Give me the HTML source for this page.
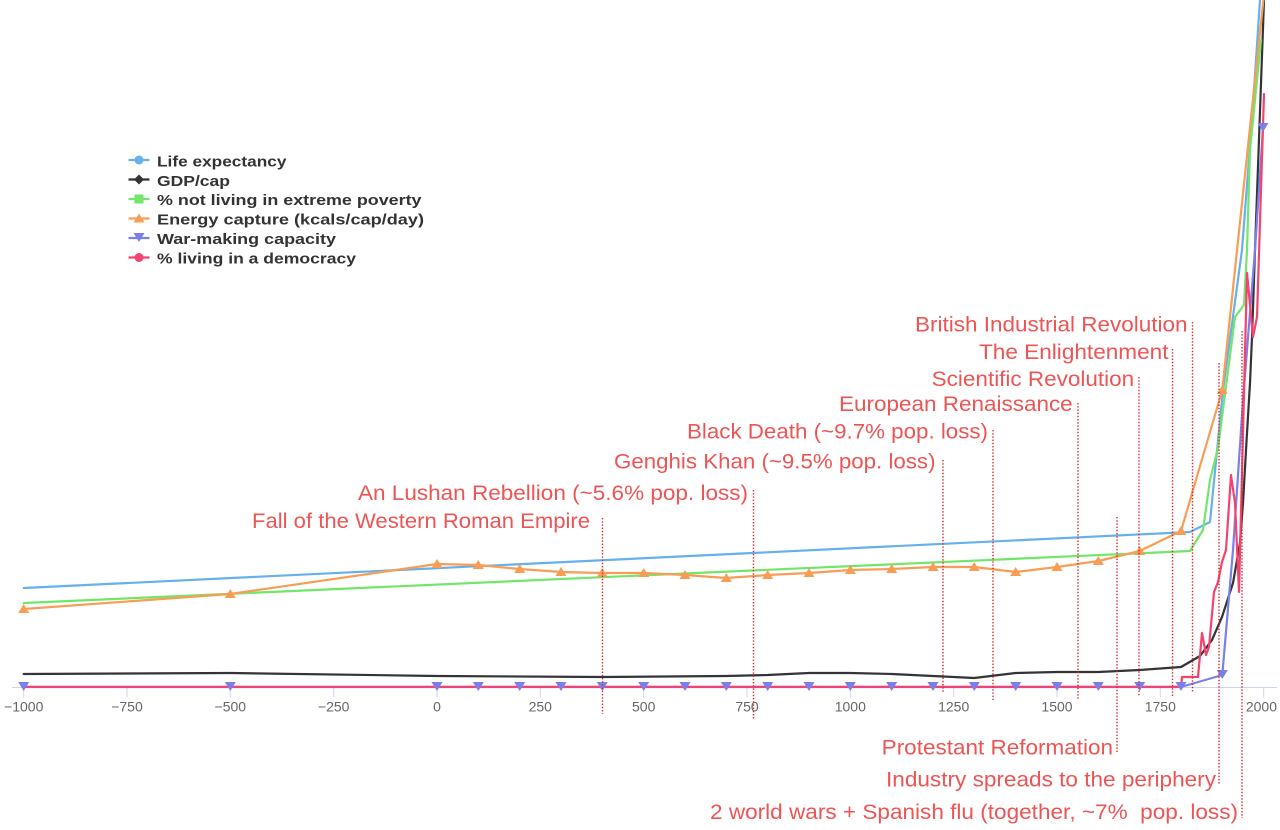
<!DOCTYPE html>
<html>
<head>
<meta charset="utf-8">
<style>
html,body{margin:0;padding:0;background:#fff;}
svg{display:block;}
.ann{font-family:"Liberation Sans",Arial,sans-serif;font-size:21px;fill:#ef5454;white-space:pre;}
.leg{font-family:"Liberation Sans",Arial,sans-serif;font-size:15px;font-weight:bold;fill:#333;}
.tick{font-family:"Liberation Sans",Arial,sans-serif;font-size:14px;fill:#666;}
</style>
</head>
<body>
<svg width="1280" height="830" viewBox="0 0 1280 830" xmlns="http://www.w3.org/2000/svg">
<defs>
<clipPath id="plot"><rect x="0" y="0" width="1280" height="700"/></clipPath>
</defs>

<!-- x axis -->
<line x1="12" y1="687.5" x2="1277" y2="687.5" stroke="#ccd6eb" stroke-width="1"/>
<g stroke="#ccd6eb" stroke-width="1">
<line x1="23.7" y1="687.5" x2="23.7" y2="697.5"/>
<line x1="127" y1="687.5" x2="127" y2="697.5"/>
<line x1="230.3" y1="687.5" x2="230.3" y2="697.5"/>
<line x1="333.7" y1="687.5" x2="333.7" y2="697.5"/>
<line x1="437" y1="687.5" x2="437" y2="697.5"/>
<line x1="540.3" y1="687.5" x2="540.3" y2="697.5"/>
<line x1="643.7" y1="687.5" x2="643.7" y2="697.5"/>
<line x1="747" y1="687.5" x2="747" y2="697.5"/>
<line x1="850.3" y1="687.5" x2="850.3" y2="697.5"/>
<line x1="953.7" y1="687.5" x2="953.7" y2="697.5"/>
<line x1="1057" y1="687.5" x2="1057" y2="697.5"/>
<line x1="1160.3" y1="687.5" x2="1160.3" y2="697.5"/>
<line x1="1263.7" y1="687.5" x2="1263.7" y2="697.5"/>
</g>
<g class="tick" text-anchor="middle">
<text x="23.7" y="711.5">−1000</text>
<text x="127" y="711.5">−750</text>
<text x="230.3" y="711.5">−500</text>
<text x="333.7" y="711.5">−250</text>
<text x="437" y="711.5">0</text>
<text x="540.3" y="711.5">250</text>
<text x="643.7" y="711.5">500</text>
<text x="747" y="711.5">750</text>
<text x="850.3" y="711.5">1000</text>
<text x="953.7" y="711.5">1250</text>
<text x="1057" y="711.5">1500</text>
<text x="1160.3" y="711.5">1750</text>
<text x="1277" y="711.5" text-anchor="end">2000</text>
</g>

<g clip-path="url(#plot)" fill="none" stroke-width="2.2" stroke-linejoin="round" stroke-linecap="round">
<polyline stroke="#66b0ec" points="23.7,588 1190,532 1210,522 1223,390 1242,250 1252,120 1260,0"/>
<polyline stroke="#333338" points="23.7,674 230.3,673 437,676 602,677 726,676 767.7,675 809,673 850.3,673 891.7,674 933,676 974.3,678 1015.7,673 1057,672 1098.3,672 1139.7,670 1181,667 1200,656 1212,640 1222,617 1233,583 1240,543 1243,503 1247,433 1250,383 1252,337 1255,250 1264,0"/>
<polyline stroke="#72e66a" points="23.7,603 1190,551 1203,530 1210,480 1218,448 1235,317 1244,305 1247,250 1250,150 1261,40"/>
<polyline stroke="#f89d55" points="23.7,609 230.3,594 437,564 478.3,565 519.7,569 561,572 602.3,573 643.7,573 685,575 726.3,578 767.7,575 809,573 850.3,570 891.7,569 933,567 974.3,567 1015.7,572 1057,567 1098.3,561 1139.7,551 1181,531 1222.3,390 1265,-15"/>
<polyline stroke="#7b7fe9" points="23.7,687 1181,687 1222.3,675 1233,550 1243,400 1255,250 1263,128"/>
<polyline stroke="#f5426f" points="23.7,686.8 1181,686.8 1182,677 1198,677 1202,633 1206,655 1209,647 1214,592 1218,582 1222,562 1226,550 1231,475 1235,503 1239,592 1247,273 1253,337 1257,317 1264,94"/>
</g>

<g fill="#f89d55" clip-path="url(#plot)">
<path d="M23.7,604 l5.5,9 h-11z"/>
<path d="M230.3,589 l5.5,9 h-11z"/>
<path d="M437,559 l5.5,9 h-11z"/>
<path d="M478.3,560 l5.5,9 h-11z"/>
<path d="M519.7,564 l5.5,9 h-11z"/>
<path d="M561,567 l5.5,9 h-11z"/>
<path d="M602.3,568 l5.5,9 h-11z"/>
<path d="M643.7,568 l5.5,9 h-11z"/>
<path d="M685,570 l5.5,9 h-11z"/>
<path d="M726.3,573 l5.5,9 h-11z"/>
<path d="M767.7,570 l5.5,9 h-11z"/>
<path d="M809,568 l5.5,9 h-11z"/>
<path d="M850.3,565 l5.5,9 h-11z"/>
<path d="M891.7,564 l5.5,9 h-11z"/>
<path d="M933,562 l5.5,9 h-11z"/>
<path d="M974.3,562 l5.5,9 h-11z"/>
<path d="M1015.7,567 l5.5,9 h-11z"/>
<path d="M1057,562 l5.5,9 h-11z"/>
<path d="M1098.3,556 l5.5,9 h-11z"/>
<path d="M1139.7,546 l5.5,9 h-11z"/>
<path d="M1181,526 l5.5,9 h-11z"/>
<path d="M1222.3,385 l5.5,9 h-11z"/>
</g>

<g fill="#7b7fe9">
<path d="M18.2,682 h11 l-5.5,9z"/>
<path d="M224.8,682 h11 l-5.5,9z"/>
<path d="M431.5,682 h11 l-5.5,9z"/>
<path d="M472.8,682 h11 l-5.5,9z"/>
<path d="M514.2,682 h11 l-5.5,9z"/>
<path d="M555.5,682 h11 l-5.5,9z"/>
<path d="M596.8,682 h11 l-5.5,9z"/>
<path d="M638.2,682 h11 l-5.5,9z"/>
<path d="M679.5,682 h11 l-5.5,9z"/>
<path d="M720.8,682 h11 l-5.5,9z"/>
<path d="M762.2,682 h11 l-5.5,9z"/>
<path d="M803.5,682 h11 l-5.5,9z"/>
<path d="M844.8,682 h11 l-5.5,9z"/>
<path d="M886.2,682 h11 l-5.5,9z"/>
<path d="M927.5,682 h11 l-5.5,9z"/>
<path d="M968.8,682 h11 l-5.5,9z"/>
<path d="M1010.2,682 h11 l-5.5,9z"/>
<path d="M1051.5,682 h11 l-5.5,9z"/>
<path d="M1092.8,682 h11 l-5.5,9z"/>
<path d="M1134.2,682 h11 l-5.5,9z"/>
<path d="M1175.5,682 h11 l-5.5,9z"/>
<path d="M1216.8,670 h11 l-5.5,9z"/>
<path d="M1257.5,123 h11 l-5.5,9z"/>
</g>

<g stroke="#dc2626" stroke-width="1.4" stroke-dasharray="1.4 1.8">
<line x1="602.5" y1="518" x2="602.5" y2="714"/>
<line x1="753.5" y1="490" x2="753.5" y2="719"/>
<line x1="943" y1="460" x2="943" y2="693"/>
<line x1="993" y1="430" x2="993" y2="700"/>
<line x1="1078" y1="403" x2="1078" y2="699"/>
<line x1="1117" y1="517" x2="1117" y2="753"/>
<line x1="1139" y1="377" x2="1139" y2="697"/>
<line x1="1172.5" y1="349" x2="1172.5" y2="697"/>
<line x1="1192.5" y1="322" x2="1192.5" y2="693"/>
<line x1="1219" y1="363" x2="1219" y2="784"/>
<line x1="1242" y1="331" x2="1242" y2="818"/>
</g>

<g class="ann">
<text x="915" y="331.5" textLength="272.5" lengthAdjust="spacingAndGlyphs">British Industrial Revolution</text>
<text x="979" y="359" textLength="189.5" lengthAdjust="spacingAndGlyphs">The Enlightenment</text>
<text x="931.7" y="386" textLength="202.5" lengthAdjust="spacingAndGlyphs">Scientific Revolution</text>
<text x="839" y="411" textLength="233.7" lengthAdjust="spacingAndGlyphs">European Renaissance</text>
<text x="687" y="438.3" textLength="301" lengthAdjust="spacingAndGlyphs">Black Death (~9.7% pop. loss)</text>
<text x="614" y="468.3" textLength="321.5" lengthAdjust="spacingAndGlyphs">Genghis Khan (~9.5% pop. loss)</text>
<text x="358" y="500" textLength="390" lengthAdjust="spacingAndGlyphs">An Lushan Rebellion (~5.6% pop. loss)</text>
<text x="252" y="528" textLength="338" lengthAdjust="spacingAndGlyphs">Fall of the Western Roman Empire</text>
<text x="881.7" y="754.3" textLength="231.3" lengthAdjust="spacingAndGlyphs">Protestant Reformation</text>
<text x="886" y="786.7" textLength="330" lengthAdjust="spacingAndGlyphs">Industry spreads to the periphery</text>
<text x="710" y="819" textLength="528" lengthAdjust="spacingAndGlyphs" xml:space="preserve">2 world wars + Spanish flu (together, ~7%  pop. loss)</text>
</g>

<g stroke-width="2.2">
<line x1="128.5" y1="160" x2="149.5" y2="160" stroke="#66b0ec"/>
<circle cx="139" cy="160" r="4.5" fill="#66b0ec" stroke="none"/>
<line x1="128.5" y1="179.5" x2="149.5" y2="179.5" stroke="#333338"/>
<path d="M139,174.5 l5,5 l-5,5 l-5,-5z" fill="#333338" stroke="none"/>
<line x1="128.5" y1="199" x2="149.5" y2="199" stroke="#72e66a"/>
<rect x="134.5" y="194.5" width="9" height="9" fill="#72e66a" stroke="none"/>
<line x1="128.5" y1="218.5" x2="149.5" y2="218.5" stroke="#f89d55"/>
<path d="M139,213.5 l5.5,9 h-11z" fill="#f89d55" stroke="none"/>
<line x1="128.5" y1="238" x2="149.5" y2="238" stroke="#7b7fe9"/>
<path d="M133.5,233 h11 l-5.5,9z" fill="#7b7fe9" stroke="none"/>
<line x1="128.5" y1="257.5" x2="149.5" y2="257.5" stroke="#f5426f"/>
<circle cx="139" cy="257.5" r="4.5" fill="#f5426f" stroke="none"/>
</g>
<g class="leg">
<text x="157" y="166.5" textLength="129.5" lengthAdjust="spacingAndGlyphs">Life expectancy</text>
<text x="157" y="186" textLength="73" lengthAdjust="spacingAndGlyphs">GDP/cap</text>
<text x="157" y="205" textLength="264.5" lengthAdjust="spacingAndGlyphs">% not living in extreme poverty</text>
<text x="157" y="224.5" textLength="267" lengthAdjust="spacingAndGlyphs">Energy capture (kcals/cap/day)</text>
<text x="157" y="244" textLength="179" lengthAdjust="spacingAndGlyphs">War-making capacity</text>
<text x="157" y="263.5" textLength="199" lengthAdjust="spacingAndGlyphs">% living in a democracy</text>
</g>
</svg>
</body>
</html>
